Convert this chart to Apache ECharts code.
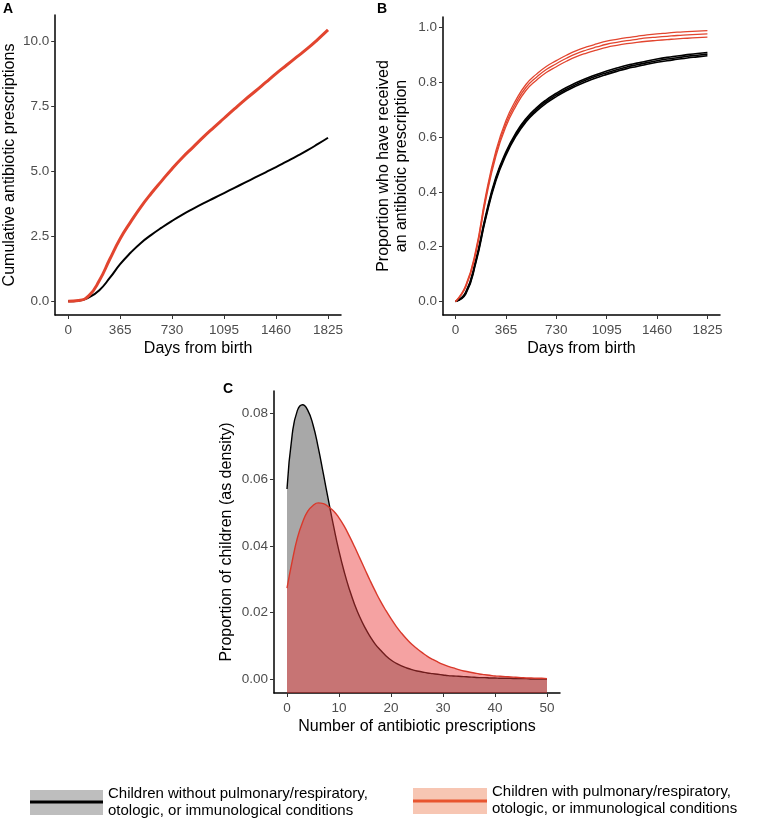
<!DOCTYPE html>
<html><head><meta charset="utf-8">
<script src="https://cdn.jsdelivr.net/npm/echarts@6/dist/echarts.min.js"></script>
<style>html,body{margin:0;padding:0;background:#fff}#c{width:760px;height:822px}</style>
</head><body><div id="c"></div>
<script>
// ---------- DATA ----------
const days = [0, 73, 146, 219, 292, 365, 438, 511, 584, 657, 730, 803, 876, 949, 1022, 1095, 1168, 1241, 1314, 1387, 1460, 1533, 1606, 1679, 1752, 1825];
const dayTicks = [0, 365, 730, 1095, 1460, 1825];
// Panel A: cumulative antibiotic prescriptions
const cumWith    = [0, 0.03, 0.22, 0.80, 1.62, 2.41, 3.05, 3.64, 4.16, 4.64, 5.11, 5.54, 5.93, 6.32, 6.69, 7.05, 7.41, 7.76, 8.09, 8.43, 8.77, 9.09, 9.41, 9.73, 10.08, 10.45];
const cumWithout = [0, 0.02, 0.15, 0.43, 0.90, 1.43, 1.87, 2.25, 2.56, 2.84, 3.10, 3.34, 3.56, 3.77, 3.97, 4.17, 4.37, 4.57, 4.77, 4.97, 5.17, 5.38, 5.59, 5.81, 6.05, 6.30];
const cumTicks = [0, 2.5, 5, 7.5, 10];
// Panel B: proportion who have received a prescription (center, lower, upper)
const propWith      = [0, 0.055, 0.180, 0.380, 0.540, 0.650, 0.725, 0.782, 0.818, 0.847, 0.868, 0.888, 0.905, 0.918, 0.929, 0.939, 0.946, 0.952, 0.957, 0.962, 0.965, 0.968, 0.971, 0.973, 0.975, 0.977];
const propWithLo    = [0, 0.052, 0.174, 0.371, 0.530, 0.639, 0.714, 0.771, 0.807, 0.836, 0.857, 0.877, 0.894, 0.907, 0.918, 0.928, 0.935, 0.941, 0.946, 0.950, 0.953, 0.956, 0.959, 0.961, 0.963, 0.965];
const propWithHi    = [0, 0.058, 0.186, 0.389, 0.550, 0.661, 0.736, 0.793, 0.829, 0.858, 0.879, 0.899, 0.916, 0.929, 0.940, 0.950, 0.957, 0.963, 0.968, 0.973, 0.977, 0.980, 0.983, 0.985, 0.987, 0.989];
const propWithout   = [0, 0.030, 0.145, 0.310, 0.447, 0.540, 0.610, 0.662, 0.700, 0.730, 0.754, 0.775, 0.793, 0.809, 0.823, 0.835, 0.846, 0.856, 0.864, 0.872, 0.879, 0.885, 0.890, 0.895, 0.899, 0.903];
const propWithoutLo = [0, 0.027, 0.140, 0.304, 0.441, 0.534, 0.604, 0.656, 0.694, 0.724, 0.748, 0.769, 0.787, 0.803, 0.817, 0.829, 0.840, 0.850, 0.858, 0.866, 0.873, 0.879, 0.884, 0.889, 0.893, 0.897];
const propWithoutHi = [0, 0.033, 0.150, 0.316, 0.453, 0.546, 0.616, 0.668, 0.706, 0.736, 0.760, 0.781, 0.799, 0.815, 0.829, 0.841, 0.852, 0.862, 0.870, 0.878, 0.885, 0.891, 0.896, 0.901, 0.905, 0.909];
const propTicks = [0, 0.2, 0.4, 0.6, 0.8, 1.0];
// Panel C: density of number of prescriptions
const nPresc = [0,1,2,3,4,5,6,7,8,9,10,11,12,13,14,15,16,17,18,19,20,21,22,23,24,25,26,27,28,29,30,31,32,33,34,35,36,37,38,39,40,41,42,43,44,45,46,47,48,49,50];
const densWithout = [0.0572,0.0735,0.0808,0.0825,0.0808,0.0765,0.0697,0.0617,0.0535,0.0457,0.0385,0.0323,0.0270,0.0225,0.0187,0.0155,0.0128,0.0105,0.0087,0.0071,0.0058,0.0048,0.0040,0.0034,0.0029,0.0025,0.0022,0.0019,0.0017,0.0015,0.0013,0.0011,0.0010,0.0009,0.0008,0.0007,0.0006,0.0005,0.0005,0.0004,0.0004,0.0003,0.0003,0.0003,0.0002,0.0002,0.0002,0.0001,0.0001,0.0001,0.0001];
const densWith = [0.0274,0.0355,0.0425,0.0472,0.0505,0.0522,0.0530,0.0528,0.0518,0.0505,0.0485,0.0460,0.0430,0.0398,0.0364,0.0330,0.0296,0.0264,0.0234,0.0207,0.0182,0.0159,0.0139,0.0121,0.0105,0.0092,0.0080,0.0069,0.0060,0.0052,0.0045,0.0039,0.0034,0.0029,0.0025,0.0022,0.0019,0.0016,0.0014,0.0012,0.0010,0.0009,0.0008,0.0007,0.0006,0.0005,0.0004,0.0004,0.0003,0.0003,0.0002];
const nTicks = [0, 10, 20, 30, 40, 50];
const densTicks = [0, 0.02, 0.04, 0.06, 0.08];
const legendWithout = 'Children without pulmonary/respiratory,\notologic, or immunological conditions';
const legendWith = 'Children with pulmonary/respiratory,\notologic, or immunological conditions';

// ---------- STYLE ----------
const FONT = '"Liberation Sans", Arial, Helvetica, sans-serif';
const RED = '#E2452F';
const pair = (xs, ys) => xs.map((x, i) => [x, ys[i]]);

function xAx(grid, min, max, ticks, name) {
  return {
    type: 'value', gridIndex: grid, min: min, max: max,
    name: name, nameLocation: 'middle', nameGap: 26,
    nameTextStyle: { fontFamily: FONT, fontSize: 16, color: '#000' },
    axisLine: { show: true, onZero: false, lineStyle: { color: '#000', width: 1.5 } },
    axisTick: { show: true, length: 4, customValues: ticks, lineStyle: { color: '#333', width: 1 } },
    axisLabel: { customValues: ticks, margin: 8, fontFamily: FONT, fontSize: 13.5, color: '#4d4d4d',
      formatter: v => String(v) },
    splitLine: { show: false }
  };
}
function yAx(grid, min, max, ticks, dec, name, gap) {
  return {
    type: 'value', gridIndex: grid, min: min, max: max,
    name: name, nameLocation: 'middle', nameGap: gap,
    nameTextStyle: { fontFamily: FONT, fontSize: 16, color: '#000', lineHeight: 18 },
    axisLine: { show: true, onZero: false, lineStyle: { color: '#000', width: 1.5 } },
    axisTick: { show: true, length: 4, customValues: ticks, lineStyle: { color: '#333', width: 1 } },
    axisLabel: { customValues: ticks, margin: 6, fontFamily: FONT, fontSize: 13.5, color: '#4d4d4d',
      formatter: v => Number(v).toFixed(dec) },
    splitLine: { show: false }
  };
}
function ln(xi, yi, data, color, width, z, extra) {
  return Object.assign({
    type: 'line', xAxisIndex: xi, yAxisIndex: yi, data: data, smooth: true,
    showSymbol: false, symbol: 'none', silent: true, z: z,
    lineStyle: { color: color, width: width }
  }, extra || {});
}

const chart = echarts.init(document.getElementById('c'), null, { renderer: 'canvas' });
chart.setOption({
  animation: false,
  backgroundColor: '#fff',
  grid: [
    { left: 54, top: 15, width: 287, height: 300 },
    { left: 443, top: 17, width: 277, height: 298 },
    { left: 274, top: 391, width: 286, height: 302 }
  ],
  xAxis: [
    xAx(0, -91.25, 1916.25, dayTicks, 'Days from birth'),
    xAx(1, -91.25, 1916.25, dayTicks, 'Days from birth'),
    xAx(2, -2.5, 52.5, nTicks, 'Number of antibiotic prescriptions')
  ],
  yAxis: [
    yAx(0, -0.525, 11.025, cumTicks, 1, 'Cumulative antibiotic prescriptions', 36),
    yAx(1, -0.0495, 1.0385, propTicks, 1, 'Proportion who have received\nan antibiotic prescription', 32),
    yAx(2, -0.004125, 0.086625, densTicks, 2, 'Proportion of children (as density)', 38)
  ],
  series: [
    ln(0, 0, pair(days, cumWithout), '#000', 2, 2),
    ln(0, 0, pair(days, cumWith), RED, 3, 3),
    ln(1, 1, pair(days, propWithoutLo), '#000', 1.6, 2),
    ln(1, 1, pair(days, propWithoutHi), '#000', 1.6, 2),
    ln(1, 1, pair(days, propWithout), '#000', 1.6, 2),
    ln(1, 1, pair(days, propWithLo), RED, 1.3, 3),
    ln(1, 1, pair(days, propWithHi), RED, 1.3, 3),
    ln(1, 1, pair(days, propWith), RED, 1.3, 3),
    ln(2, 2, pair(nPresc, densWithout), '#000', 1.4, 2, { areaStyle: { color: 'rgba(0,0,0,0.34)', opacity: 1, origin: 'start' } }),
    ln(2, 2, pair(nPresc, densWith), '#D9392B', 1.4, 3, { areaStyle: { color: 'rgba(235,60,60,0.48)', opacity: 1, origin: 'start' } })
  ],
  graphic: [
    { type: 'text', left: 3, top: 2, style: { text: 'A', font: 'bold 14px ' + FONT, fill: '#000' } },
    { type: 'text', left: 377, top: 2, style: { text: 'B', font: 'bold 14px ' + FONT, fill: '#000' } },
    { type: 'text', left: 223, top: 382, style: { text: 'C', font: 'bold 14px ' + FONT, fill: '#000' } },
    { type: 'rect', shape: { x: 30, y: 790, width: 73, height: 25 }, style: { fill: '#bebebe' } },
    { type: 'rect', shape: { x: 30, y: 800.5, width: 73, height: 3 }, style: { fill: '#000' } },
    { type: 'text', x: 108, y: 785, style: { text: legendWithout, font: '15px ' + FONT, lineHeight: 17, fill: '#000' } },
    { type: 'rect', shape: { x: 413, y: 788, width: 74, height: 26 }, style: { fill: '#f7c6b3' } },
    { type: 'rect', shape: { x: 413, y: 799.5, width: 74, height: 3 }, style: { fill: '#E8552F' } },
    { type: 'text', x: 492, y: 783, style: { text: legendWith, font: '15px ' + FONT, lineHeight: 17, fill: '#000' } }
  ]
});
</script></body></html>
